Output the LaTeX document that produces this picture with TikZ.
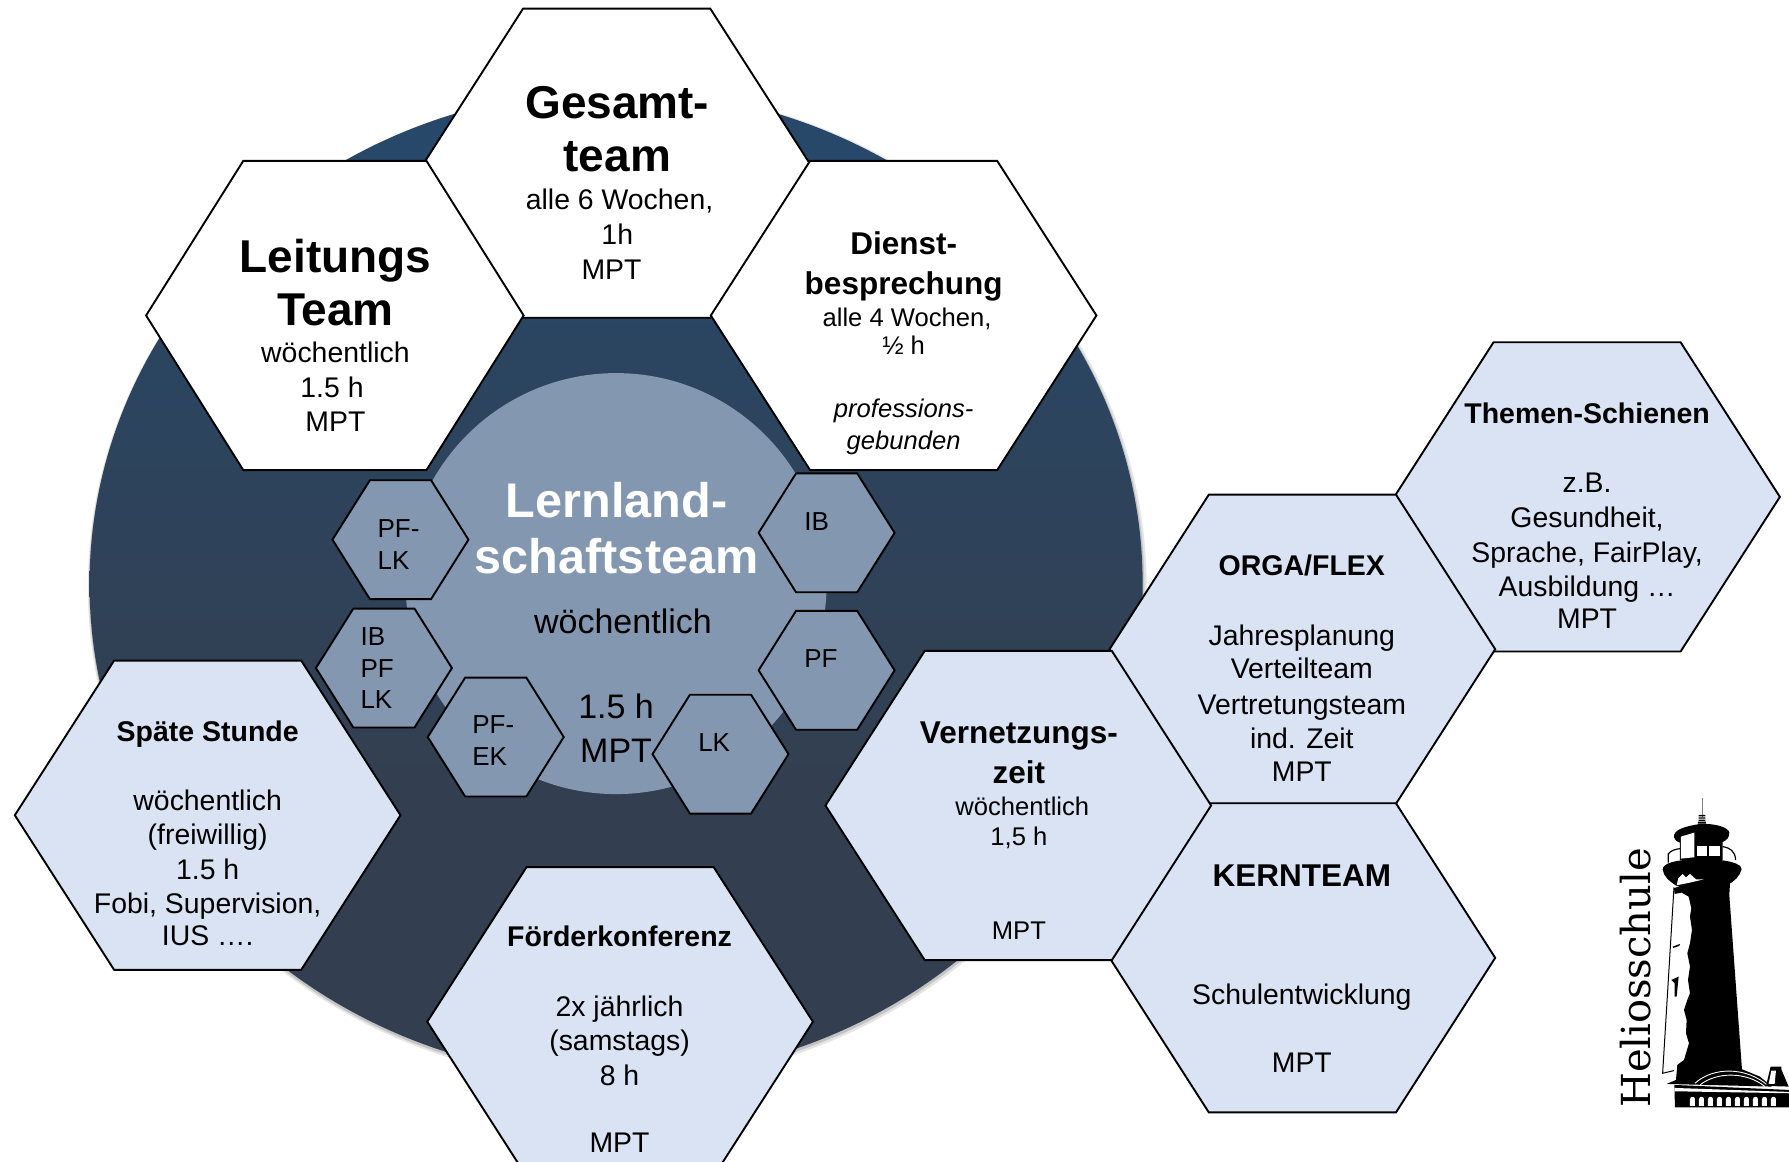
\documentclass[tikz,border=0pt]{standalone}
\usepackage{fontspec}
\setmainfont{Liberation Sans}
\newfontfamily\slabfont{DejaVu Serif}
\definecolor{ringtop}{HTML}{1F4E79}
\definecolor{ringbot}{HTML}{333F50}
\definecolor{slate}{HTML}{8497B0}
\definecolor{pale}{HTML}{DAE3F3}
\pgfdeclareverticalshading{ringshade}{100bp}{color(0bp)=(ringbot); color(39bp)=(ringbot); color(95bp)=(ringtop); color(100bp)=(ringtop)}
\newcommand{\fs}[2]{\fontsize{#1pt}{#2pt}\selectfont}
\tikzset{
  outer/.style={draw=black,line width=1.9pt,line join=miter},
  whitehex/.style={outer,fill=white},
  palehex/.style={outer,fill=pale},
  slatehex/.style={outer,fill=slate},
  tbase/.style={inner sep=0pt,outer sep=0pt,anchor=base},
  thuge/.style={tbase,font=\fs{46}{52}\bfseries},
  tmid/.style={tbase,font=\fs{31.5}{40}\bfseries},
  thead/.style={tbase,font=\fs{28.5}{34}\bfseries},
  tbody/.style={tbase,font=\fs{28.4}{34}},
  tsmall/.style={tbase,font=\fs{25.6}{30}},
  ttiny/.style={tbase,font=\fs{26}{30},anchor=base west},
}
\newcommand{\bighex}[4]{%
  \coordinate (#1) at (#2,#3);
  \path[shift={(#2,#3)},#4] (-169,0)--(-82,-135.5)--(82,-135.5)--(169,0)--(82,135.5)--(-82,135.5)--cycle;}
\newcommand{\smallhex}[3]{%
  \coordinate (#1) at (#2,#3);
  \path[slatehex,shift={(#2,#3)}] (-59.6,0)--(-26.8,-52.1)--(26.8,-52.1)--(59.6,0)--(26.8,52.1)--(-26.8,52.1)--cycle;}
\newcommand{\textlines}[4]{%
  \foreach \yy/\lab in {#4} {\node[#2,name=#1-\yy] at (#3,\yy) {\lab};}}
\begin{document}
\begin{tikzpicture}[x=1.14094pt,y=-1.14094pt]
\useasboundingbox (0,0) rectangle (1568,1018.4);
\begin{scope}
\clip (0,0) rectangle (1568,1018.4);
\path[fill=black,opacity=.10] (541,514) ellipse[x radius=464,y radius=435.5];
\path[fill=black,opacity=.15] (540.5,513.5) ellipse[x radius=462.5,y radius=434];
\path[shading=ringshade] (540,512) ellipse[x radius=461.5,y radius=433];
\path[fill=slate] (540,511.5) circle[radius=184.5];
\bighex{gesamt}{540.5}{143}{whitehex}
\bighex{leitung}{293.5}{276.5}{whitehex,xscale=.979}
\bighex{dienst}{792}{276.5}{whitehex}
\bighex{themen}{1391}{435.5}{palehex}
\bighex{orga}{1141.5}{569}{palehex}
\bighex{kern}{1141.5}{839.5}{palehex}
\bighex{vernetz}{892.5}{706}{palehex}
\bighex{spaet}{182}{714.5}{palehex}
\bighex{foerder}{543.5}{895.5}{palehex}
\smallhex{pflk}{351}{473}
\smallhex{ib}{724.5}{467}
\smallhex{pf}{724.5}{587.5}
\smallhex{ibpflk}{336.5}{585.5}
\smallhex{pfek}{434.5}{646}
\smallhex{lk}{631.5}{661}
\end{scope}
\textlines{g}{thuge}{541}{104/Gesamt-,150/team}
\textlines{ga}{tbody}{543}{184/{alle 6 Wochen,}}
\textlines{gb}{tbody}{541}{214/1h}
\textlines{gc}{tbody}{536}{245/MPT}
\textlines{l}{thuge}{294}{239/Leitungs,285/Team}
\textlines{la}{tbody}{294}{318/wöchentlich}
\textlines{lb}{tbody}{291}{348/1.5 h}
\textlines{lc}{tbody}{294}{378/MPT}
\textlines{d}{tmid}{792}{223/Dienst-,258/besprechung}
\textlines{da}{tsmall}{795}{286/{alle 4 Wochen,}}
\textlines{db}{tsmall}{792}{311/½ h}
\textlines{di}{tsmall,font=\fs{25.6}{30}\itshape}{792}{366/professions-,394/gebunden}
\textlines{t}{thead}{1391}{371/Themen-Schienen}
\textlines{tb}{tbody}{1391}{432/z.B.,462/{Gesundheit,},493/{Sprache, FairPlay,},523/Ausbildung …,551/MPT}
\textlines{o}{thead}{1141}{504/{ORGA/FLEX}}
\textlines{ob}{tbody}{1141}{566/Jahresplanung,595/Verteilteam,626/Vertretungsteam,656/ind. Zeit,685/MPT}
\textlines{v}{tmid}{893}{652/Vernetzungs-,687/zeit}
\textlines{va}{tsmall}{896}{715/wöchentlich}
\textlines{vb}{tsmall}{893}{741/{1,5 h},823/MPT}
\textlines{k}{tmid}{1141}{777/KERNTEAM}
\textlines{kb}{tbody}{1141}{880/Schulentwicklung,940/MPT}
\textlines{s}{thead}{182}{650/Späte Stunde}
\textlines{sb}{tbody}{182}{710/wöchentlich,740/(freiwillig),771/1.5 h,801/{Fobi, Supervision,},829/IUS ….}
\textlines{f}{thead}{543}{830/Förderkonferenz}
\textlines{fb}{tbody}{543}{891/2x jährlich,921/(samstags),951/8 h,1010/MPT}
\textlines{ll}{tbase,font=\fs{48.6}{56}\bfseries,text=white}{540.5}{454/Lernland-,503/schaftsteam}
\textlines{lw}{tbase,font=\fs{34}{40}}{546}{555/wöchentlich}
\textlines{lm}{tbase,font=\fs{34}{40}}{540}{630/1.5 h,668/MPT}
\textlines{a}{ttiny}{331}{471/PF-,499/LK}
\textlines{b}{ttiny}{705}{465/IB}
\textlines{c}{ttiny}{705}{585/PF}
\textlines{e}{ttiny}{316}{566/IB,594/PF,621/LK}
\textlines{h}{ttiny}{414}{643/PF-,671/EK}
\textlines{i}{ttiny}{612}{659/LK}
\node[tbase,anchor=base west,rotate=90,font=\fs{40}{48}\slabfont] (brand) at (1446.7,971) {Heliosschule};
\begin{scope}[shift={(1384.8,683.6)},x=0.3333pt,y=-0.3333pt]
\draw[gray,line width=.8pt] (366,55)--(366,110);
\fill[black] (356,105) rectangle (376,109) (356,112) rectangle (376,116) (356,119) rectangle (376,123) (354,125) rectangle (378,131);
\fill[black] (282,172) .. controls (280,150) and (310,140) .. (360,132) .. controls (400,130) and (445,140) .. (448,158) .. controls (448,172) and (440,182) .. (428,186) -- (428,240) -- (300,240) -- (300,188) .. controls (290,185) and (284,180) .. (282,172) -- cycle;
\fill[white] (303,170) -- (343,158) -- (343,232) -- (303,236) -- cycle;
\fill[white] (350,197) rectangle (380,228);
\fill[white] (388,197) rectangle (420,228);
\draw[black,line width=1.2pt] (265,248) -- (265,222) .. controls (272,212) and (285,208) .. (300,206);
\draw[black,line width=1.2pt] (428,200) .. controls (450,204) and (465,212) .. (467,240);
\fill[black] (248,268) .. controls (250,250) and (280,240) .. (366,236) .. controls (450,240) and (483,250) .. (485,268) .. controls (480,290) and (460,305) .. (448,312) -- (290,318) .. controls (270,305) and (250,290) .. (248,268) -- cycle;
\fill[white] (290,316) -- (295,295) -- (308,282) -- (318,292) -- (330,282) -- (348,298) -- (372,298) -- (330,308) -- cycle;
\draw[black,line width=1pt] (282,322) -- (248,880) -- (282,872);
\fill[black] (282,325) .. controls (310,312) and (340,312) .. (370,300) -- (450,312) -- (448,345) -- (486,868) -- (540,890) -- (575,920) -- (260,912) -- (288,900) -- (292,855) -- (312,840) -- (318,820) -- (327,790) -- (318,760) -- (320,720) -- (312,690) -- (322,660) -- (330,640) -- (324,600) -- (330,560) -- (322,520) -- (330,490) -- (336,450) -- (330,410) -- (334,385) -- (326,350) -- (305,338) -- (284,342) -- cycle;
\fill[black] (278,500) -- (300,492) -- (298,498) -- (280,504) -- cycle;
\fill[black] (274,600) -- (296,590) -- (290,650) -- (284,650) -- (284,610) -- cycle;
\draw[white,line width=.9pt] (345,910) .. controls (400,860) and (500,860) .. (565,918);
\draw[white,line width=.9pt] (360,915) .. controls (410,875) and (500,875) .. (555,920);
\fill[black] (572,860) -- (604,860) -- (604,868) -- (626,920) -- (558,918) -- cycle;
\fill[white] (574,872) -- (588,872) -- (584,912) -- (566,912) -- cycle;
\fill[black] (283,915) -- (627,930) -- (627,982) -- (285,982) -- cycle;
\fill[white] (283,924) -- (627,936) -- (627,940) -- (283,934) -- cycle;
\foreach \ax in {330,357,384,411,438,465,492,519,546,573} {
  \fill[white] (\ax,978) -- (\ax,958) arc[start angle=180,end angle=360,radius=7.5] -- (\ax+15,978) -- cycle;
}
\end{scope}
\end{tikzpicture}
\end{document}
